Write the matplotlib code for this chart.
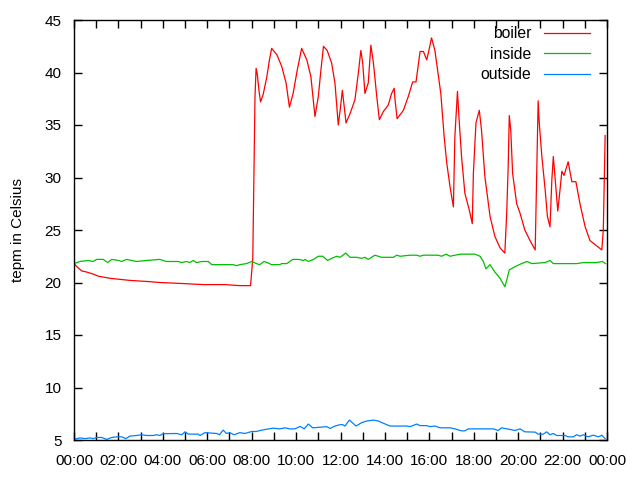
import matplotlib
matplotlib.use("Agg")
import matplotlib.pyplot as plt
import numpy as np

plt.rcParams['font.family'] = ['Liberation Sans', 'DejaVu Sans']

# readings: time of day (HH:MM) and temperature in Celsius
boiler_t = ["00:00", "00:08", "00:21", "00:34", "00:52", "01:06", "01:37", "02:31", "03:16", "03:52",
            "04:55", "05:49", "06:48", "07:28", "07:57", "08:03", "08:09", "08:12", "08:15", "08:20",
            "08:24", "08:31", "08:41", "08:48", "08:54", "09:08", "09:21", "09:33", "09:42", "09:52",
            "10:03", "10:15", "10:29", "10:40", "10:51", "11:00", "11:07", "11:14", "11:24", "11:36",
            "11:45", "11:54", "11:59", "12:05", "12:15", "12:26", "12:39", "12:48", "12:55", "13:00",
            "13:06", "13:15", "13:22", "13:29", "13:38", "13:45", "13:56", "14:09", "14:18", "14:25",
            "14:27", "14:33", "14:50", "15:03", "15:15", "15:24", "15:35", "15:44", "15:53", "16:00",
            "16:06", "16:15", "16:31", "16:40", "16:47", "16:56", "17:05", "17:09", "17:16", "17:21",
            "17:27", "17:36", "17:48", "17:56", "17:59", "18:06", "18:15", "18:21", "18:30", "18:44",
            "18:57", "19:11", "19:24", "19:29", "19:33", "19:36", "19:40", "19:45", "19:56", "20:05",
            "20:18", "20:32", "20:46", "20:50", "20:54", "20:57", "21:04", "21:13", "21:19", "21:26",
            "21:31", "21:35", "21:40", "21:47", "21:53", "21:58", "22:04", "22:15", "22:25", "22:36",
            "22:47", "23:01", "23:14", "23:32", "23:46", "23:50", "23:53", "23:55"]
boiler = [21.8, 21.5, 21.1, 21.0, 20.8, 20.6, 20.4, 20.2, 20.1, 20.0,
          19.9, 19.8, 19.8, 19.7, 19.7, 22.3, 37.7, 40.4, 39.9, 38.2,
          37.2, 37.9, 39.6, 41.2, 42.3, 41.7, 40.6, 39.0, 36.7, 38.0,
          40.2, 42.3, 41.2, 39.6, 35.8, 37.7, 40.2, 42.5, 42.1, 40.9,
          39.0, 35.0, 36.4, 38.3, 35.2, 36.1, 37.4, 39.9, 42.1, 40.9,
          38.0, 39.0, 42.6, 40.9, 37.7, 35.5, 36.3, 36.9, 38.0, 38.5,
          37.5, 35.6, 36.4, 37.7, 39.1, 39.1, 42.0, 42.0, 41.2, 42.3,
          43.3, 42.1, 38.0, 33.9, 31.4, 29.1, 27.2, 33.9, 38.2, 35.2,
          32.0, 28.5, 26.9, 25.6, 30.4, 35.2, 36.4, 34.5, 30.1, 26.3,
          24.4, 23.3, 22.8, 26.6, 31.0, 35.9, 34.5, 30.4, 27.5, 26.6,
          25.0, 24.0, 23.1, 30.4, 37.3, 35.2, 32.0, 28.8, 26.3, 25.3,
          29.8, 32.0, 29.8, 26.8, 28.8, 30.6, 30.2, 31.5, 29.6, 29.6,
          27.5, 25.3, 24.0, 23.5, 23.1, 25.0, 30.4, 34.0]

inside_t = ["00:00", "00:16", "00:39", "00:52", "01:01", "01:19", "01:31", "01:42", "02:00", "02:09",
            "02:22", "02:49", "03:16", "03:52", "04:10", "04:42", "04:51", "05:04", "05:13", "05:22",
            "05:31", "05:45", "06:03", "06:12", "07:10", "07:19", "07:28", "07:46", "08:00", "08:13",
            "08:22", "08:33", "08:42", "08:54", "09:16", "09:21", "09:35", "09:51", "10:06", "10:20",
            "10:24", "10:33", "10:47", "11:00", "11:12", "11:25", "11:36", "11:50", "11:59", "12:14",
            "12:26", "12:44", "12:57", "13:06", "13:15", "13:33", "13:51", "14:23", "14:32", "14:41",
            "15:08", "15:26", "15:35", "15:44", "16:02", "16:24", "16:33", "16:45", "16:56", "17:09",
            "17:25", "18:03", "18:17", "18:26", "18:33", "18:44", "18:57", "19:11", "19:24", "19:29",
            "19:36", "19:51", "20:09", "20:24", "20:37", "21:13", "21:26", "21:35", "22:11", "22:38",
            "22:56", "23:32", "23:48", "23:56"]
inside = [21.8, 22.0, 22.1, 22.0, 22.2, 22.2, 21.9, 22.2, 22.1, 22.0,
          22.2, 22.0, 22.1, 22.2, 22.0, 22.0, 21.9, 22.0, 21.9, 22.1,
          21.9, 22.0, 22.0, 21.7, 21.7, 21.6, 21.7, 21.8, 22.0, 21.8,
          21.7, 22.0, 21.9, 21.7, 21.7, 21.8, 21.8, 22.2, 22.2, 22.1,
          22.2, 22.0, 22.2, 22.5, 22.5, 22.1, 22.3, 22.5, 22.4, 22.8,
          22.4, 22.4, 22.3, 22.4, 22.2, 22.6, 22.4, 22.4, 22.6, 22.5,
          22.6, 22.6, 22.5, 22.6, 22.6, 22.6, 22.5, 22.7, 22.5, 22.6,
          22.7, 22.7, 22.5, 22.0, 21.3, 21.7, 21.0, 20.4, 19.6, 20.2,
          21.2, 21.5, 21.8, 22.0, 21.8, 21.9, 22.1, 21.8, 21.8, 21.8,
          21.9, 21.9, 22.0, 21.8]

outside_t = ["00:00", "00:16", "00:30", "00:43", "00:52", "01:01", "01:15", "01:28", "01:42", "01:55",
             "02:09", "02:20", "02:31", "02:49", "03:03", "03:16", "03:34", "03:43", "03:52", "04:01",
             "04:37", "04:51", "05:00", "05:09", "05:36", "05:40", "05:54", "06:26", "06:33", "06:43",
             "06:52", "07:01", "07:12", "07:28", "07:42", "08:00", "08:13", "08:22", "08:41", "08:58",
             "09:16", "09:30", "09:43", "09:57", "10:11", "10:22", "10:33", "10:45", "11:23", "11:32",
             "11:45", "11:59", "12:06", "12:12", "12:24", "12:42", "12:57", "13:11", "13:29", "13:42",
             "13:56", "14:14", "14:59", "15:08", "15:26", "15:35", "15:53", "16:02", "16:15", "16:29",
             "16:56", "17:09", "17:27", "17:36", "17:45", "18:53", "19:06", "19:15", "19:29", "19:43",
             "19:51", "20:05", "20:18", "20:46", "20:54", "21:08", "21:17", "21:26", "21:35", "21:44",
             "22:07", "22:15", "22:29", "22:38", "22:47", "22:56", "23:09", "23:23", "23:37", "23:46",
             "23:55"]
outside = [5.06, 5.20, 5.13, 5.20, 5.13, 5.24, 5.24, 5.06, 5.24, 5.30,
           5.30, 5.13, 5.37, 5.43, 5.50, 5.43, 5.43, 5.50, 5.43, 5.60,
           5.62, 5.50, 5.78, 5.56, 5.56, 5.43, 5.70, 5.62, 5.50, 5.94,
           5.62, 5.70, 5.50, 5.70, 5.62, 5.81, 5.81, 5.90, 6.03, 6.13,
           6.06, 6.16, 6.06, 6.06, 6.30, 6.06, 6.52, 6.16, 6.27, 6.10,
           6.33, 6.46, 6.46, 6.33, 6.90, 6.33, 6.65, 6.81, 6.90, 6.81,
           6.59, 6.33, 6.33, 6.27, 6.52, 6.37, 6.37, 6.27, 6.33, 6.16,
           6.16, 6.06, 5.87, 5.87, 6.06, 6.06, 5.90, 6.16, 6.06, 5.97,
           5.90, 6.06, 5.78, 5.75, 5.56, 5.56, 5.78, 5.50, 5.62, 5.43,
           5.43, 5.30, 5.30, 5.50, 5.37, 5.50, 5.30, 5.46, 5.30, 5.46,
           5.13]


def to_hours(times):
    return np.array([int(s[:2]) + int(s[3:]) / 60.0 for s in times])


fig = plt.figure(figsize=(6.4, 4.8), dpi=100)
ax = fig.add_axes([74 / 640, 1 - 440 / 480, 533 / 640, 420 / 480])

ax.plot(to_hours(boiler_t), boiler, color='#ff0000', lw=0.9, label='boiler')
ax.plot(to_hours(inside_t), inside, color='#00c000', lw=0.9, label='inside')
ax.plot(to_hours(outside_t), outside, color='#0080ff', lw=0.9, label='outside')

ax.set_xlim(0, 24)
ax.set_ylim(5, 45)
ax.set_yticks(range(5, 46, 5))
ax.set_xticks(range(0, 25))
ax.set_xticklabels(["%02d:00" % (h % 24) if h % 2 == 0 else "" for h in range(25)])
ax.tick_params(direction='in', length=6, width=1, top=True, right=True, labelsize=11)
ax.tick_params(axis='x', pad=10)
ax.tick_params(axis='y', pad=9)
for s in ax.spines.values():
    s.set_linewidth(1)

ax.set_ylabel('tepm in Celsius', fontsize=11, labelpad=14)

ax.legend(loc='upper right', bbox_to_anchor=(590 / 640, 1 - 26 / 480), bbox_transform=fig.transFigure,
          frameon=False, markerfirst=False, fontsize=11.3, handlelength=2.9, handletextpad=0.85,
          labelspacing=0.36, borderpad=0, borderaxespad=0)

fig.savefig('out.png', dpi=100)
